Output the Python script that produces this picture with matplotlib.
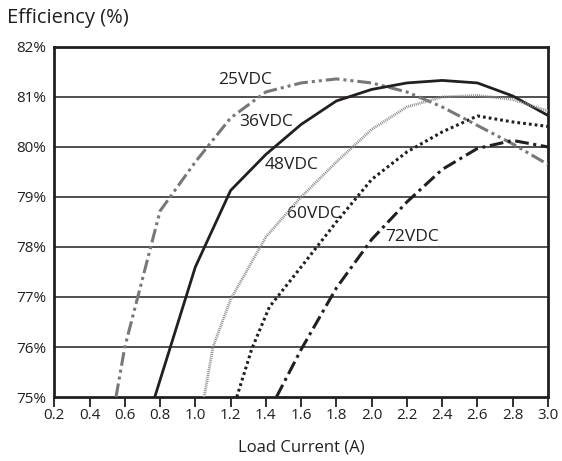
import matplotlib
matplotlib.use("Agg")
import matplotlib.pyplot as plt

plt.rcParams['font.family'] = ['Open Sans', 'DejaVu Sans']

# efficiency curves, load current (A) vs efficiency (%)
i_25 = [0.55, 0.6, 0.8, 1.0, 1.2, 1.4, 1.6, 1.8, 2.0, 2.2, 2.4, 2.6, 2.8, 3.0]
e_25 = [75.0, 76.0, 78.72, 79.7, 80.58, 81.1, 81.28, 81.36, 81.28, 81.1, 80.8, 80.43, 80.06, 79.65]

i_36 = [0.77, 1.0, 1.2, 1.4, 1.6, 1.8, 2.0, 2.2, 2.4, 2.6, 2.8, 3.0]
e_36 = [75.0, 77.6, 79.13, 79.85, 80.45, 80.92, 81.15, 81.28, 81.33, 81.28, 81.02, 80.63]

i_48 = [1.05, 1.1, 1.2, 1.4, 1.6, 1.8, 2.0, 2.2, 2.4, 2.6, 2.8, 3.0]
e_48 = [75.0, 76.0, 76.95, 78.2, 79.0, 79.7, 80.35, 80.8, 81.0, 81.03, 80.95, 80.72]

i_60 = [1.235, 1.32, 1.42, 1.6, 1.8, 2.0, 2.2, 2.4, 2.6, 2.8, 3.0]
e_60 = [75.0, 75.96, 76.8, 77.6, 78.5, 79.35, 79.9, 80.3, 80.62, 80.5, 80.41]

i_72 = [1.46, 1.6, 1.8, 2.0, 2.2, 2.4, 2.6, 2.8, 3.0]
e_72 = [75.0, 75.95, 77.18, 78.15, 78.9, 79.55, 79.97, 80.13, 80.0]

labels = ["25VDC", "36VDC", "48VDC", "60VDC", "72VDC"]
label_pos = [(1.13, 81.34), (1.25, 80.5), (1.395, 79.64), (1.52, 78.66), (2.08, 78.19)]

x_ticks = [0.2, 0.4, 0.6, 0.8, 1.0, 1.2, 1.4, 1.6, 1.8, 2.0, 2.2, 2.4, 2.6, 2.8, 3.0]
y_ticks = [75, 76, 77, 78, 79, 80, 81, 82]

dark = '#231f20'

fig = plt.figure(figsize=(5.62, 4.61), dpi=100)
ax = fig.add_axes([0.0966, 0.1388, 0.8784, 0.7594])

for y in y_ticks[1:-1]:
    ax.axhline(y, color=dark, lw=1.1, zorder=1)

ax.plot(i_25, e_25, color='#77787b', lw=2.2, dashes=(4.5, 1.3, 1, 1.3, 1, 1.3), zorder=3)
ax.plot(i_36, e_36, color=dark, lw=2.0, zorder=3)
ax.plot(i_48, e_48, color='#8a8b8d', lw=2.0, dashes=(0.35, 0.35), zorder=3)
ax.plot(i_60, e_60, color=dark, lw=2.2, dashes=(0.9, 1.0), zorder=3)
ax.plot(i_72, e_72, color=dark, lw=2.2, dashes=(4.5, 1.5, 1, 1.5), zorder=3)

for text, (x, y) in zip(labels, label_pos):
    ax.text(x, y, text, fontsize=12.5, color=dark, va='center', ha='left', zorder=2)

ax.set_xlim(0.2, 3.0)
ax.set_ylim(75, 82)
ax.set_xticks(x_ticks)
ax.set_xticklabels([f"{t:.1f}" for t in x_ticks])
ax.set_yticks(y_ticks)
ax.set_yticklabels([f"{t}%" for t in y_ticks])
ax.tick_params(axis='x', direction='out', length=7, width=1.3, color=dark,
               labelsize=11, labelcolor=dark, pad=1)
ax.tick_params(axis='y', length=0, labelsize=11, labelcolor=dark, pad=6)
for s in ax.spines.values():
    s.set_color(dark)
    s.set_linewidth(2.0)

ax.set_xlabel("Load Current (A)", fontsize=12, color=dark, labelpad=12)
fig.text(0.012, 0.962, "Efficiency (%)", fontsize=14.5, color=dark, va='center', ha='left')

fig.savefig("out.png", dpi=100)
